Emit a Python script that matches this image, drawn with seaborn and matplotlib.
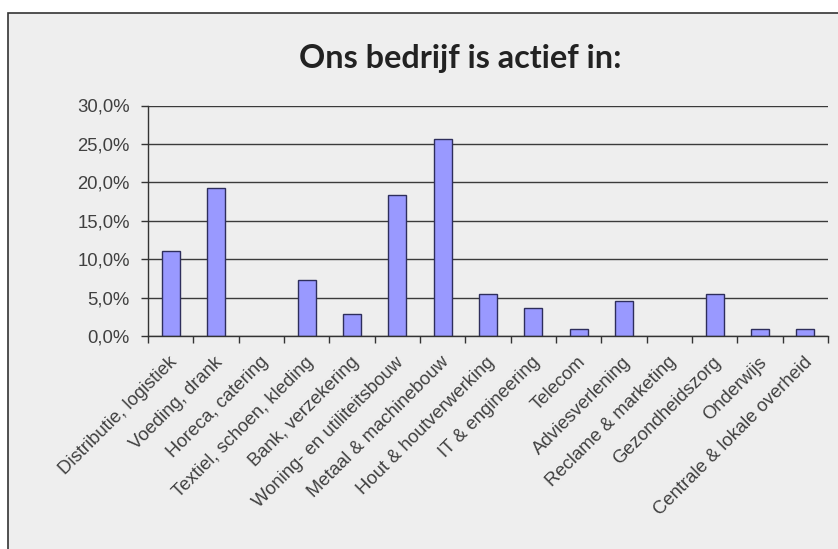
import matplotlib
matplotlib.use("Agg")
import matplotlib.pyplot as plt
import seaborn as sns
import pandas as pd
from matplotlib.patches import Rectangle
from matplotlib.ticker import FuncFormatter, MultipleLocator
from matplotlib.transforms import ScaledTranslation

categories = [
    "Distributie, logistiek", "Voeding, drank", "Horeca, catering",
    "Textiel, schoen, kleding", "Bank, verzekering", "Woning- en utiliteitsbouw",
    "Metaal & machinebouw", "Hout & houtverwerking", "IT & engineering",
    "Telecom", "Adviesverlening", "Reclame & marketing", "Gezondheidszorg",
    "Onderwijs", "Centrale & lokale overheid",
]
values = [11.0, 19.3, 0.0, 7.3, 2.8, 18.3, 25.7, 5.5, 3.7, 0.9, 4.6, 0.0, 5.5, 0.9, 0.9]
title = "Ons bedrijf is actief in:"

df = pd.DataFrame({"cat": categories, "val": values})

bg = "#EEEEEE"
W, H = 838, 549
fig = plt.figure(figsize=(W / 100, H / 100), dpi=100)
fig.patch.set_facecolor("white")
fig.patches.append(Rectangle((8 / W, -0.05), 1.1, (H - 13) / H + 0.05,
                             transform=fig.transFigure, facecolor=bg,
                             edgecolor="#333333", linewidth=1.2, zorder=-10))

ax = fig.add_axes([148 / W, 1 - 336 / H, (828 - 148) / W, (336 - 105.5) / H])
ax.set_facecolor(bg)

sns.barplot(data=df, x="cat", y="val", order=categories, color="#9999FF",
            edgecolor="#2E2E5C", linewidth=1.0, width=0.4, ax=ax, saturation=1)
for p in ax.patches:
    if p.get_height() == 0:
        p.set_linewidth(0)

ax.set_xlim(-0.5, len(categories) - 0.5)
ax.set_ylim(0, 30)
ax.yaxis.set_major_locator(MultipleLocator(5))
ax.yaxis.set_major_formatter(FuncFormatter(lambda v, p: f"{v:.1f}%".replace(".", ",")))
ax.grid(axis="y", color="#3A3A3A", linewidth=1.0)
ax.set_axisbelow(True)
for s in ["top", "right"]:
    ax.spines[s].set_visible(False)
for s in ["left", "bottom"]:
    ax.spines[s].set_color("#333333")
    ax.spines[s].set_linewidth(1.0)
ax.set_xlabel("")
ax.set_ylabel("")

# category boundary ticks on x
ax.set_xticks([i - 0.5 for i in range(len(categories) + 1)], minor=False)
ax.set_xticklabels([])
ax.set_xticks(range(len(categories)), minor=True)
ax.set_xticklabels(categories, minor=True, rotation=45, ha="right", va="center",
                   rotation_mode="anchor", fontsize=13.3, color="#404040",
                   family="Liberation Sans")
ax.tick_params(axis="x", which="major", length=5, width=1, color="#333333")
ax.tick_params(axis="x", which="minor", length=0, pad=17)
shift = ScaledTranslation(4 / 100, 0, fig.dpi_scale_trans)
for t in ax.get_xticklabels(minor=True):
    t.set_transform(t.get_transform() + shift)
ax.tick_params(axis="y", length=5, width=1, color="#333333", pad=8,
               labelsize=13.3, labelcolor="#404040")
for t in ax.get_yticklabels():
    t.set_family("Liberation Sans")

fig.text(460 / W, 1 - 68 / H, title, ha="center", va="baseline",
         fontsize=23.3, fontweight="bold", family="Lato", color="#222222")

fig.savefig("out.png", dpi=100, facecolor=fig.get_facecolor())
